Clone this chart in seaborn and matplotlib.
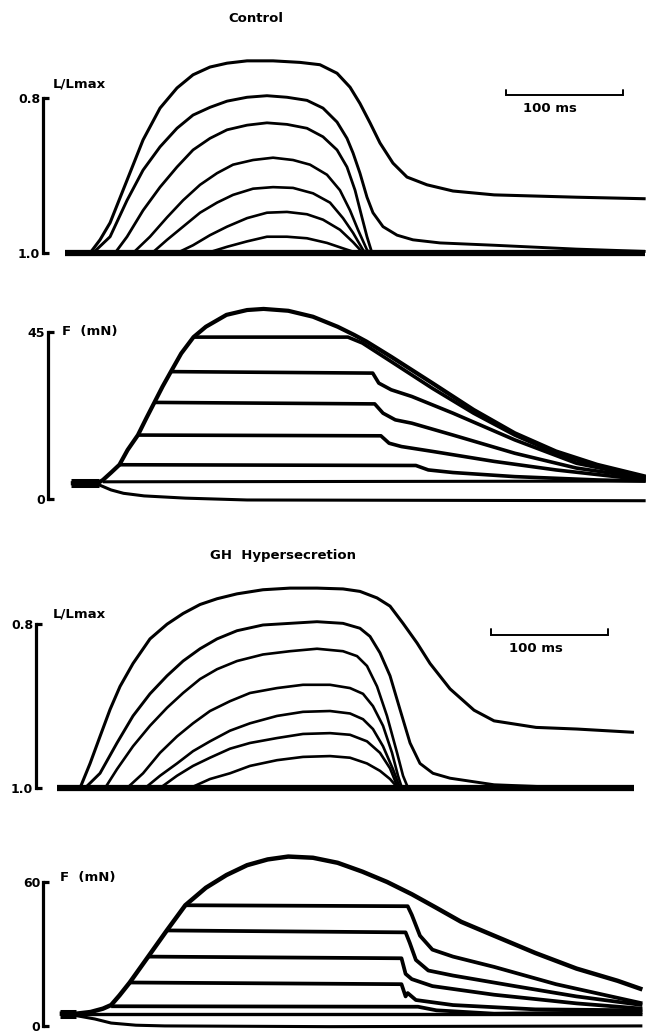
import matplotlib
matplotlib.use("Agg")
import matplotlib.pyplot as plt
import seaborn as sns

# ---------------- DATA ----------------
# time in ms, length in L/Lmax, force in mN
# Control - length traces
c_len_base_t = [0, 496]
c_len_base_v = [1.0, 1.0]
c_len1_t = [0, 21.4, 29.9, 38.5, 53.0, 66.7, 81.2, 95.7, 109.4, 123.9, 138.5, 155.6, 177.8, 200.9, 217.9, 232.5, 243.6, 252.1, 260.7, 269.2, 280.3, 292.3, 309.4, 320.5, 331.6, 366.8, 437.2, 496.3]
c_len1_v = [1.0, 1.0, 0.983, 0.961, 0.906, 0.854, 0.813, 0.787, 0.770, 0.760, 0.755, 0.752, 0.752, 0.754, 0.757, 0.768, 0.786, 0.807, 0.832, 0.858, 0.884, 0.902, 0.912, 0.916, 0.920, 0.925, 0.928, 0.930]
c_len2_t = [23.9, 38.5, 53.0, 66.7, 81.2, 95.7, 109.4, 123.9, 138.5, 155.6, 172.6, 189.7, 206.8, 220.5, 232.5, 241.0, 246.2, 252.1, 258.1, 263.2, 271.8, 283.8, 297.4, 320.5, 366.8, 437.2, 496.3]
c_len2_v = [1.0, 0.979, 0.932, 0.893, 0.863, 0.839, 0.822, 0.812, 0.804, 0.799, 0.797, 0.799, 0.803, 0.813, 0.831, 0.852, 0.871, 0.897, 0.928, 0.948, 0.966, 0.977, 0.983, 0.987, 0.990, 0.995, 0.998]
c_len3_t = [42.7, 53.0, 66.7, 81.2, 95.7, 109.4, 123.9, 138.5, 155.6, 172.6, 189.7, 206.8, 220.5, 232.5, 241.0, 247.9, 253.8, 258.1, 262.4]
c_len3_v = [1.0, 0.979, 0.945, 0.915, 0.889, 0.867, 0.852, 0.841, 0.835, 0.832, 0.834, 0.839, 0.850, 0.867, 0.889, 0.919, 0.954, 0.979, 1.0]
c_len4_t = [58.1, 72.6, 87.2, 100.9, 115.4, 129.9, 143.6, 160.7, 177.8, 194.9, 209.4, 223.9, 235.0, 243.6, 250.4, 258.1, 260.7]
c_len4_v = [1.0, 0.979, 0.954, 0.932, 0.912, 0.897, 0.886, 0.880, 0.877, 0.880, 0.886, 0.899, 0.919, 0.945, 0.970, 0.996, 1.0]
c_len5_t = [74.4, 87.2, 100.9, 115.4, 129.9, 143.6, 160.7, 177.8, 194.9, 212.0, 226.5, 237.6, 246.2, 254.7, 257.3]
c_len5_v = [1.0, 0.983, 0.966, 0.948, 0.935, 0.925, 0.917, 0.915, 0.916, 0.923, 0.935, 0.955, 0.974, 0.996, 1.0]
c_len6_t = [95.7, 109.4, 123.9, 138.5, 155.6, 172.6, 189.7, 206.8, 220.5, 235.0, 246.2, 254.7]
c_len6_v = [1.0, 0.990, 0.977, 0.966, 0.955, 0.948, 0.947, 0.950, 0.957, 0.970, 0.986, 1.0]
c_len7_t = [121.4, 138.5, 155.6, 172.6, 189.7, 206.8, 223.9, 237.6, 249.6]
c_len7_v = [1.0, 0.992, 0.985, 0.979, 0.979, 0.981, 0.987, 0.994, 1.0]

# Control - force traces
c_f_start_t = [4.9, 28.9]
c_f_start_v = [4.2, 4.2]
c_f_iso_t = [4.9, 28.9, 32.4, 39.4, 46.5, 53.5, 62.3, 69.4, 76.4, 83.4, 90.5, 99.3, 109.8, 120.4, 138.0, 155.6, 169.7, 190.8, 211.9, 233.0, 247.1, 257.7, 278.8, 314.0, 349.2, 384.4, 419.6, 454.8, 496.3]
c_f_iso_v = [4.2, 4.4, 5.1, 7.1, 9.2, 13.2, 17.2, 21.7, 26.0, 30.3, 34.3, 39.2, 43.6, 46.4, 49.6, 50.9, 51.2, 50.7, 49.1, 46.4, 44.2, 42.4, 38.3, 31.2, 24.0, 17.7, 12.8, 9.2, 6.0]
c_f1_t = [109.8, 241.8, 254.2, 278.8, 314.0, 349.2, 384.4, 419.6, 454.8, 496.3]
c_f1_v = [43.6, 43.6, 42.0, 37.0, 29.8, 23.1, 17.2, 12.3, 8.7, 5.8]
c_f2_t = [90.5, 263.0, 268.2, 278.8, 296.4, 331.6, 384.4, 437.2, 496.3]
c_f2_v = [34.3, 33.9, 31.2, 29.4, 27.6, 23.1, 15.9, 9.6, 5.8]
c_f3_t = [76.4, 264.7, 271.8, 282.3, 296.4, 331.6, 384.4, 437.2, 496.3]
c_f3_v = [26.0, 25.6, 23.1, 21.3, 20.4, 17.2, 12.3, 8.3, 5.6]
c_f4_t = [62.3, 270.0, 277.0, 287.6, 314.0, 366.8, 419.6, 496.3]
c_f4_v = [17.2, 17.0, 15.0, 14.1, 12.8, 10.1, 7.8, 5.1]
c_f5_t = [46.5, 299.9, 310.5, 331.6, 384.4, 454.8, 496.3]
c_f5_v = [9.2, 9.0, 7.8, 7.1, 6.0, 5.1, 4.8]
c_f6_t = [32.4, 496.3]
c_f6_v = [4.6, 4.8]
c_f7_t = [28.9, 39.4, 50.0, 67.6, 102.8, 155.6, 496.3]
c_f7_v = [3.8, 2.4, 1.5, 0.8, 0.2, -0.3, -0.5]

# GH hypersecretion - length traces
g_len_base_t = [-6.8, 486.3]
g_len_base_v = [1.0, 1.0]
g_len1_t = [12.8, 21.4, 29.9, 38.5, 47.0, 58.1, 72.6, 87.2, 100.9, 115.4, 129.9, 147.0, 169.2, 192.3, 215.4, 237.6, 252.1, 266.7, 277.8, 288.9, 300.9, 312.0, 329.1, 349.6, 366.7, 402.6, 437.6, 486.3]
g_len1_v = [1.0, 0.970, 0.937, 0.904, 0.876, 0.848, 0.818, 0.800, 0.787, 0.776, 0.769, 0.763, 0.758, 0.756, 0.756, 0.757, 0.760, 0.768, 0.778, 0.799, 0.823, 0.848, 0.879, 0.905, 0.918, 0.926, 0.928, 0.932]
g_len2_t = [17.1, 29.9, 44.4, 58.1, 72.6, 87.2, 100.9, 115.4, 129.9, 147.0, 169.2, 192.3, 215.4, 237.6, 252.1, 260.7, 269.2, 277.8, 286.3, 294.9, 303.4, 314.5, 329.1, 366.7, 437.6, 486.3]
g_len2_v = [1.0, 0.982, 0.945, 0.912, 0.885, 0.863, 0.845, 0.830, 0.818, 0.808, 0.801, 0.799, 0.797, 0.799, 0.805, 0.815, 0.835, 0.863, 0.904, 0.945, 0.970, 0.982, 0.988, 0.996, 1.0, 1.0]
g_len3_t = [34.2, 44.4, 58.1, 72.6, 87.2, 100.9, 115.4, 129.9, 147.0, 169.2, 192.3, 215.4, 237.6, 249.6, 258.1, 266.7, 275.2, 283.8, 288.9, 293.2]
g_len3_v = [1.0, 0.977, 0.949, 0.924, 0.902, 0.884, 0.867, 0.855, 0.845, 0.837, 0.833, 0.830, 0.833, 0.839, 0.851, 0.876, 0.912, 0.957, 0.985, 1.0]
g_len4_t = [53.0, 66.7, 81.2, 95.7, 109.4, 123.9, 141.0, 158.1, 181.2, 203.4, 226.5, 243.6, 254.7, 263.2, 271.8, 279.5, 284.6, 288.0]
g_len4_v = [1.0, 0.982, 0.957, 0.937, 0.921, 0.906, 0.894, 0.884, 0.878, 0.874, 0.874, 0.878, 0.885, 0.900, 0.924, 0.957, 0.985, 1.0]
g_len5_t = [68.4, 81.2, 95.7, 109.4, 123.9, 141.0, 158.1, 181.2, 203.4, 226.5, 243.6, 254.7, 263.2, 271.8, 280.3, 286.3]
g_len5_v = [1.0, 0.985, 0.970, 0.955, 0.943, 0.930, 0.921, 0.912, 0.907, 0.906, 0.909, 0.916, 0.928, 0.949, 0.977, 1.0]
g_len6_t = [81.2, 95.7, 109.4, 123.9, 141.0, 158.1, 181.2, 203.4, 226.5, 243.6, 258.1, 269.2, 277.8, 284.6]
g_len6_v = [1.0, 0.985, 0.973, 0.963, 0.952, 0.945, 0.939, 0.934, 0.933, 0.935, 0.943, 0.957, 0.976, 1.0]
g_len7_t = [106.8, 123.9, 141.0, 158.1, 181.2, 203.4, 226.5, 243.6, 258.1, 269.2, 277.8, 284.6]
g_len7_v = [1.0, 0.989, 0.982, 0.973, 0.966, 0.962, 0.961, 0.963, 0.970, 0.979, 0.989, 1.0]

# GH hypersecretion - force traces
g_f_start_t = [-4.6, 9.5]
g_f_start_v = [5.1, 5.1]
g_f_iso_t = [-4.6, 9.5, 21.8, 32.4, 39.4, 46.5, 55.3, 71.1, 87.0, 102.8, 120.4, 138.0, 155.6, 173.2, 190.8, 211.9, 233.0, 254.2, 275.3, 296.4, 317.5, 338.6, 366.8, 402.0, 437.2, 472.4, 493.5]
g_f_iso_v = [5.1, 5.1, 5.8, 7.2, 8.7, 12.7, 18.1, 28.9, 39.8, 50.3, 57.6, 62.9, 67.0, 69.4, 70.6, 70.1, 68.0, 64.3, 60.0, 54.9, 49.2, 43.4, 37.6, 30.4, 23.9, 18.8, 15.2]
g_f1_t = [102.8, 292.9, 296.4, 303.4, 314.0, 331.6, 366.8, 419.6, 493.5]
g_f1_v = [50.3, 49.9, 46.3, 37.6, 31.8, 28.9, 24.6, 17.4, 9.4]
g_f2_t = [87.0, 291.1, 294.6, 299.9, 310.5, 331.6, 384.4, 437.2, 493.5]
g_f2_v = [39.8, 39.0, 34.7, 27.5, 23.1, 21.0, 16.6, 12.3, 8.7]
g_f3_t = [71.1, 287.6, 291.1, 296.4, 314.0, 366.8, 437.2, 493.5]
g_f3_v = [28.9, 28.2, 21.7, 19.5, 16.6, 13.0, 9.4, 7.2]
g_f4_t = [55.3, 287.6, 291.1, 292.9, 294.6, 299.9, 331.6, 402.0, 493.5]
g_f4_v = [18.1, 17.4, 12.3, 13.7, 13.0, 10.8, 8.7, 6.9, 6.5]
g_f5_t = [39.4, 301.7, 317.5, 366.8, 493.5]
g_f5_v = [8.2, 8.0, 6.5, 5.1, 5.8]
g_f6_t = [9.5, 493.5]
g_f6_v = [5.1, 5.1]
g_f7_t = [9.5, 25.4, 39.4, 60.6, 85.2, 226.0, 493.5]
g_f7_v = [4.3, 2.9, 1.2, 0.3, 0.0, -0.3, 0.0]

titles = ["Control", "GH  Hypersecretion"]
len_ticks = [0.8, 1.0]
len_ticklabels = ["0.8", "1.0"]
c_f_ticks = [0, 45]
c_f_ticklabels = ["0", "45"]
g_f_ticks = [0, 60]
g_f_ticklabels = ["0", "60"]
len_label = "L/Lmax"
force_label = "F  (mN)"
scale_ms = 100
scale_text = "100 ms"

# ---------------- PLOT ----------------
sns.set_style("white")
plt.rcParams["font.family"] = ["DejaVu Sans"]
plt.rcParams["font.weight"] = "bold"
for key in ["text.color", "axes.labelcolor", "xtick.color", "ytick.color",
            "axes.edgecolor"]:
    plt.rcParams[key] = "black"

W, H = 646, 1036
fig = plt.figure(figsize=(W / 100, H / 100), dpi=100)
XLIM = (-55.6, 496.6)


def rect(top_px, bot_px):
    return [0, 1 - bot_px / H, 1, (bot_px - top_px) / H]


def draw(ax, t, v, lw):
    sns.lineplot(x=t, y=v, ax=ax, color="black", lw=lw, sort=False,
                 estimator=None, solid_joinstyle="round", solid_capstyle="butt")


def setup(ax, ylim, ticks, labels, spine_t):
    ax.set_xlim(*XLIM)
    ax.set_ylim(*ylim)
    for s in ["top", "right", "bottom"]:
        ax.spines[s].set_visible(False)
    ax.spines["left"].set_position(("data", spine_t))
    ax.spines["left"].set_bounds(min(ticks), max(ticks))
    ax.spines["left"].set_linewidth(2.3)
    ax.spines["left"].set_color("black")
    ax.set_xticks([])
    ax.set_yticks(ticks)
    ax.set_yticklabels(labels)
    ax.tick_params(axis="y", direction="in", length=4.5, width=2.3, pad=2,
                   labelsize=9, left=True, colors="black")
    ax.set_xlabel("")
    ax.set_ylabel("")
    ax.patch.set_alpha(0)


def scale_bar(ax, t0, y, dy, ty):
    ax.plot([t0, t0, t0 + scale_ms, t0 + scale_ms], [y - dy, y, y, y - dy],
            color="black", lw=1.4, solid_joinstyle="miter")
    ax.text(t0 + scale_ms * 0.38, ty, scale_text, ha="center", va="center",
            fontsize=9.5, fontweight="bold", color="black")


# Panel 1: control length
ax1 = fig.add_axes(rect(50, 265))
draw(ax1, c_len_base_t, c_len_base_v, 4.5)
for t, v, lw in [(c_len1_t, c_len1_v, 2.2), (c_len2_t, c_len2_v, 2.1),
                 (c_len3_t, c_len3_v, 2.0), (c_len4_t, c_len4_v, 1.9),
                 (c_len5_t, c_len5_v, 1.9), (c_len6_t, c_len6_v, 1.9),
                 (c_len7_t, c_len7_v, 1.9)]:
    draw(ax1, t, v, lw)
setup(ax1, (1.0155, 0.738), len_ticks, len_ticklabels, -18.8)
scale_bar(ax1, 376.9, 0.796, 0.007, 0.814)

# Panel 2: control force
ax2 = fig.add_axes(rect(290, 510))
draw(ax2, c_f_start_t, c_f_start_v, 6.5)
draw(ax2, c_f_iso_t, c_f_iso_v, 3.0)
for t, v in [(c_f1_t, c_f1_v), (c_f2_t, c_f2_v), (c_f3_t, c_f3_v),
             (c_f4_t, c_f4_v), (c_f5_t, c_f5_v)]:
    draw(ax2, t, v, 2.6)
draw(ax2, c_f6_t, c_f6_v, 2.2)
draw(ax2, c_f7_t, c_f7_v, 2.2)
setup(ax2, (-3.0, 56.3), c_f_ticks, c_f_ticklabels, -14.5)

# Panel 3: GH length
ax3 = fig.add_axes(rect(575, 800))
draw(ax3, g_len_base_t, g_len_base_v, 4.5)
for t, v, lw in [(g_len1_t, g_len1_v, 2.2), (g_len2_t, g_len2_v, 2.1),
                 (g_len3_t, g_len3_v, 1.9), (g_len4_t, g_len4_v, 1.9),
                 (g_len5_t, g_len5_v, 1.9), (g_len6_t, g_len6_v, 1.9),
                 (g_len7_t, g_len7_v, 1.9)]:
    draw(ax3, t, v, lw)
setup(ax3, (1.0146, 0.740), len_ticks, len_ticklabels, -24.8)
scale_bar(ax3, 364.1, 0.813, 0.007, 0.830)

# Panel 4: GH force
ax4 = fig.add_axes(rect(840, 1036))
draw(ax4, g_f_start_t, g_f_start_v, 6.5)
draw(ax4, g_f_iso_t, g_f_iso_v, 3.2)
for t, v in [(g_f1_t, g_f1_v), (g_f2_t, g_f2_v), (g_f3_t, g_f3_v),
             (g_f4_t, g_f4_v), (g_f5_t, g_f5_v)]:
    draw(ax4, t, v, 2.7)
draw(ax4, g_f6_t, g_f6_v, 2.4)
draw(ax4, g_f7_t, g_f7_v, 2.2)
setup(ax4, (-4.2, 77.5), g_f_ticks, g_f_ticklabels, -18.8)


# Text labels
def ftext(x, y, s, size=9.5, **kw):
    fig.text(x / W, 1 - y / H, s, fontsize=size, fontweight="bold",
             color="black", **kw)


ftext(256, 19, titles[0], ha="center", va="center")
ftext(283, 555, titles[1], ha="center", va="center")
ftext(53, 84, len_label, ha="left", va="center")
ftext(53, 614, len_label, ha="left", va="center")
ftext(62, 331, force_label, ha="left", va="center")
ftext(60, 878, force_label, ha="left", va="center")

fig.savefig("out.png", dpi=100)
